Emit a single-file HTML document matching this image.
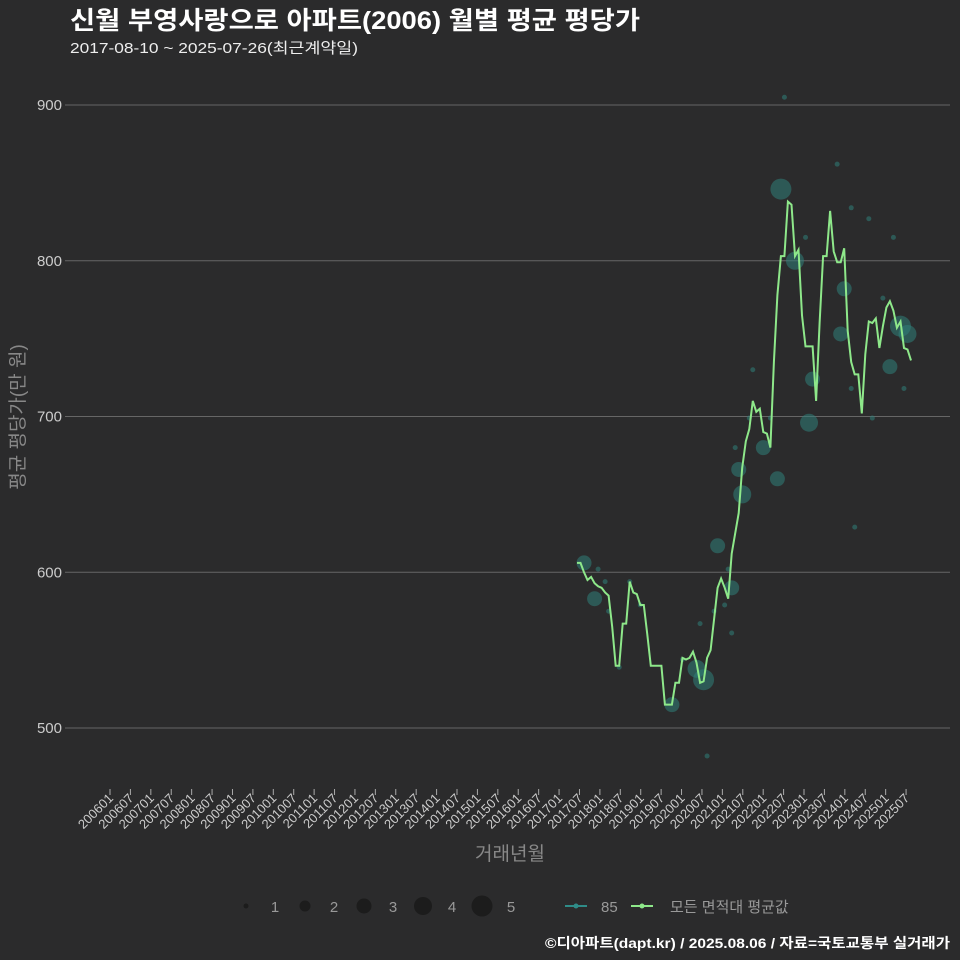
<!DOCTYPE html>
<html><head><meta charset="utf-8"><style>
body{margin:0;background:#2b2b2c;}
svg{display:block;font-family:"Liberation Sans","Noto Sans CJK KR",sans-serif;}
</style></head><body>
<svg id="chart" width="960" height="960" viewBox="0 0 960 960">
<rect width="960" height="960" fill="#2b2b2c"/>
<text x="70" y="29" font-size="25" font-weight="bold" fill="#fff" textLength="570" lengthAdjust="spacingAndGlyphs">신월 부영사랑으로 아파트(2006) 월별 평균 평당가</text>
<text x="70" y="53" font-size="15" fill="#eee" textLength="288" lengthAdjust="spacingAndGlyphs">2017-08-10 ~ 2025-07-26(최근계약일)</text>
<g id="grid"></g>
<g id="bubbles"></g>
<g id="line"></g>
<g id="xaxis"></g>
<text x="0" y="0" transform="translate(24,417) rotate(-90)" text-anchor="middle" font-size="19" fill="#888">평균 평당가(만 원)</text>
<text x="510" y="860" text-anchor="middle" font-size="19" fill="#888">거래년월</text>
<g id="legend"></g>
<text x="545" y="948" font-size="14" font-weight="bold" fill="#fff" textLength="405" lengthAdjust="spacingAndGlyphs">©디아파트(dapt.kr) / 2025.08.06 / 자료=국토교통부 실거래가</text>
</svg>
<script>
const yTicks=[500,600,700,800,900];
const lineStart="2017-08";
const lineValues=[606,606,600,595,597,593,591,590,587,585,565,540,540,567,567,594,587,586,579,579,560,540,540,540,540,515,515,515,529,529,545,544,545,549,542,529,530,545,550,570,590,596,590,583,612,625,638,667,684,692,710,703,705,690,689,680,735,778,803,803,838,836,803,807,765,745,745,745,710,760,803,803,832,806,799,799,808,755,735,727,727,702,740,761,760,763,744,758,770,774,768,757,761,744,743,736];
// bubble months: offsets (months) from 2017-08
const bubbleMonth=[58,62,76,75,92,94,89,67,66,53,46,47,57,40,44,2,5,36,34,27,78,83,90,65,87,50,78,93,84,79,45,55,49,6,8,9,15,18,12,35,39,42,44,43,37,30,59,74];
const bubbleValue=[846,800,782,753,758,753,732,724,696,680,666,650,660,617,590,606,583,531,538,515,834,827,815,815,776,730,718,718,699,629,680,699,699,602,594,575,594,579,539,567,575,579,561,602,482,544,905,862];
const bubbleCount=[5,4,3,3,5,4,3,3,4,3,3,4,3,3,3,3,3,5,4,3,1,1,1,1,1,1,1,1,1,1,1,1,1,1,1,1,1,1,1,1,1,1,1,1,1,1,1,1];
const sizeLegend=[1,2,3,4,5];
const NS="http://www.w3.org/2000/svg";
function el(t,a,p){const e=document.createElementNS(NS,t);for(const k in a)e.setAttribute(k,a[k]);p.appendChild(e);return e;}
const x0=110,pxPerMonth=3.402;
function xIdx(i){return x0+i*pxPerMonth;}
function xData(m){return 577+m*(911-577)/95;}
function y(v){return 728-(v-500)*1.5575;}
function rad(c){return [0,2.5,5.5,7.5,9,10.5][c];}
const grid=document.getElementById('grid');
yTicks.forEach(v=>{
 const l=el('line',{x1:65,x2:950,y1:y(v),y2:y(v),stroke:'#666','stroke-width':1},grid);
 
 
 const t=el('text',{x:62,y:y(v)+5,'text-anchor':'end','font-size':15,fill:'#ccc'},grid);
 t.textContent=v;
 
 
});
const xa=document.getElementById('xaxis');
for(let k=0;k<40;k++){
 const idx=k*6,xx=xIdx(idx);
 const yr=2006+Math.floor(idx/12),mo=idx%12+1;
 const lab=yr+(mo<10?'0':'')+mo;
 const tk=el('line',{x1:xx,x2:xx,y1:789,y2:795,stroke:'#aaa'},xa);
 
 
 const t=el('text',{x:0,y:0,transform:`translate(${xx+4},${799}) rotate(-45)`,'text-anchor':'end','font-size':13,fill:'#ccc'},xa);
 t.textContent=lab;
 
 
}
const bg=document.getElementById('bubbles');
bubbleMonth.forEach((m,i)=>{
 const c=el('circle',{cx:xData(m),cy:y(bubbleValue[i]),r:rad(bubbleCount[i]),fill:'#2f7f7a','fill-opacity':0.55},bg);
 
 
});
const pts=lineValues.map((v,i)=>xData(i).toFixed(1)+','+y(v).toFixed(1)).join(' ');
const pl=el('polyline',{points:pts,fill:'none',stroke:'#8ee88a','stroke-width':2},document.getElementById('line'));


const lg=document.getElementById('legend');
const lx=[246,305,364,423,482];
sizeLegend.forEach((s,i)=>{
 const c=el('circle',{cx:lx[i],cy:906,r:rad(s),fill:'#1c1c1c'},lg);
 
 
 const t=el('text',{x:lx[i]+29,y:912,'text-anchor':'middle','font-size':15,fill:'#999'},lg);
 t.textContent=s;
 
 
});
[[565,'#2f8c88','85',601],[631,'#8ee88a','모든 면적대 평균값',670]].forEach(([x,c,lab,tx])=>{
 const l=el('line',{x1:x,x2:x+22,y1:906,y2:906,stroke:c,'stroke-width':2},lg);
 
 
 const d=el('circle',{cx:x+11,cy:906,r:2.5,fill:c},lg);
 
 
 const t=el('text',{x:tx,y:912,'font-size':15,fill:'#999'},lg);
 t.textContent=lab;
 
 
});
</script>
</body></html>
